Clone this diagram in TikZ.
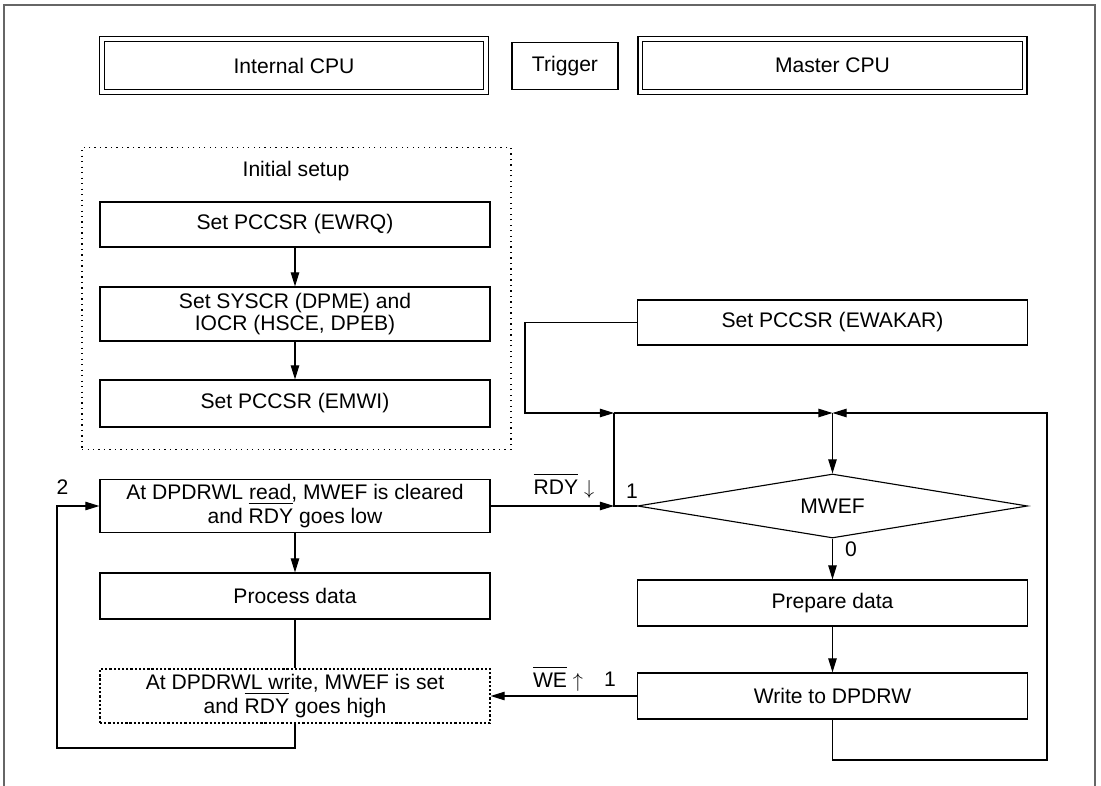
\documentclass[tikz,border=0pt]{standalone}
\usepackage{fontspec}
\setmainfont{Liberation Sans}
\usetikzlibrary{arrows.meta,positioning,shapes.geometric}
\newcommand\ovl[1]{\setbox0\hbox{#1}\leavevmode\rlap{\rule[0.93em]{\wd0}{0.7pt}}\box0\relax}

\begin{document}
\begin{tikzpicture}[x=0.025cm, y=-0.025cm,
  txt/.style={font=\fontsize{15}{15}\selectfont},
  box/.style={txt, draw, line width=0.8pt, minimum width=9.75cm, inner sep=0pt, align=center},
  hdr/.style={txt, draw, double, double distance=2.7pt, line width=0.8pt, minimum width=9.6cm, minimum height=1.31cm},
  arr/.style={-{Triangle[length=10pt,width=6pt]}, line width=0.8pt},
  lnk/.style={line width=0.8pt},
  lbl/.style={txt, inner sep=0pt, anchor=base}]
  \useasboundingbox (0,0) rectangle (1101,786);

  % Frame, open at the bottom
  \draw[line width=0.8pt, black!60] (4,786) -- (4,5) -- (1095,5) -- (1095,786);

  % Header
  \node[hdr] (intcpu) at (294,65.5) {Internal CPU};
  \node[box, minimum width=2.65cm, minimum height=1.18cm] (trig) at (565,66) {Trigger};
  \node[hdr] (mstcpu) at (832.5,65.5) {Master CPU};

  % Initial setup
  \node[draw, line width=0.8pt, dash pattern=on 0.9pt off 3pt, minimum width=10.72cm, minimum height=7.55cm] (setup) at (296.5,298.5) {};
  \node[lbl] (setuplbl) at (296,177) {Initial setup};
  \node[box, minimum height=1.125cm] (ewrq) at (295,224.5) {Set PCCSR (EWRQ)};
  \node[box, minimum height=1.35cm] (syscr) at (295,314) {Set SYSCR (DPME) and\\IOCR (HSCE, DPEB)};
  \node[box, minimum height=1.175cm] (emwi) at (295,403.5) {Set PCCSR (EMWI)};

  % Internal CPU side
  \node[box, minimum height=1.325cm] (rdclr) at (295,506) {At DPDRWL read, MWEF is cleared\\and \ovl{RDY} goes low};
  \node[box, minimum height=1.15cm] (proc) at (295,596) {Process data};
  \node[box, minimum height=1.35cm, dash pattern=on 1.6pt off 1.4pt] (wrset) at (295,696) {At DPDRWL write, MWEF is set\\and \ovl{RDY} goes high};

  % Master CPU side
  \node[box, minimum height=1.125cm] (ewakar) at (832.5,322.5) {Set PCCSR (EWAKAR)};
  \node[txt, draw, diamond, line width=0.8pt, aspect=6, minimum width=9.75cm, minimum height=1.6cm, inner sep=0pt] (mwef) at (832.5,506) {MWEF};
  \node[box, minimum height=1.15cm] (prep) at (832.5,603) {Prepare data};
  \node[box, minimum height=1.15cm] (wrdp) at (832.5,696) {Write to DPDRW};

  % Junctions and corners
  \coordinate (jl) at (614,506);
  \coordinate (jt) at (614,413);
  \coordinate (jc) at (832.5,413);
  \coordinate (ewk) at (525,413);
  \coordinate (lpl) at (57,748);
  \coordinate (lpr) at (1047,760);

  % Arrows
  \draw[arr] (ewrq) -- (syscr);
  \draw[arr] (syscr) -- (emwi);
  \draw[arr] (rdclr) -- (proc);
  \draw[lnk] (proc) -- (wrset);
  \draw[arr] (wrset.south) |- (lpl) |- (rdclr.west);
  \draw[arr] (rdclr.east) -- (jl);
  \draw[lnk] (mwef.west) -- (jl) -- (jt);
  \draw[arr] (ewakar.west) -| (ewk) -- (jt);
  \draw[arr] (jt) -- (jc);
  \draw[arr] (jc) -- (mwef.north);
  \draw[arr] (mwef.south) -- (prep.north);
  \draw[arr] (prep) -- (wrdp);
  \draw[arr] (wrdp.west) -- (wrset.east);
  \draw[arr] (wrdp.south) |- (lpr) |- (jc);

  % Labels
  \node[lbl] (rdylbl) at (564,495) {\ovl{RDY} $\downarrow$};
  \node[lbl] (onea) at (632,499) {1};
  \node[lbl] (zero) at (851,557) {0};
  \node[lbl] (welbl) at (558,688) {\ovl{WE} $\uparrow$};
  \node[lbl] (oneb) at (610,687) {1};
  \node[lbl] (two) at (62.5,495) {2};
\end{tikzpicture}
\end{document}
